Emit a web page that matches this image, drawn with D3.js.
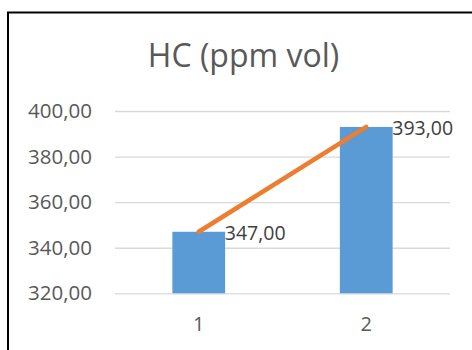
<!DOCTYPE html>
<html>
<head>
<meta charset="utf-8">
<script src="https://cdn.jsdelivr.net/npm/d3@7"></script>
<style>
  html, body { margin: 0; padding: 0; background: #fff; }
  svg { display: block; font-family: "Open Sans", sans-serif; }
</style>
</head>
<body>
<svg id="chart" width="472" height="350"></svg>
<script>
const title = "HC (ppm vol)";
const categories = ["1", "2"];
const barValues = [347, 393];
const lineValues = [347, 393];
const yTicks = [320, 340, 360, 380, 400];

const W = 472, H = 350;
const svg = d3.select("#chart");
const locale = d3.formatLocale({decimal: ",", thousands: ".", grouping: [3], currency: ["", ""]});
const fmt = locale.format(".2f");

svg.append("rect").attr("width", W).attr("height", H).attr("fill", "#fff");
// border (only left/top visible in frame)
svg.append("rect").attr("x", 8).attr("y", 12.5).attr("width", 480).attr("height", 360)
  .attr("fill", "none").attr("stroke", "#000").attr("stroke-width", 2);

const x = d3.scaleBand().domain(categories).range([115, 450]).paddingInner(0.685).paddingOuter(0.3425);
const y = d3.scaleLinear().domain([320, 400]).range([293.3, 111]);

// gridlines + y labels
const ya = svg.append("g").attr("transform", "translate(115,0)")
  .call(d3.axisLeft(y).tickValues(yTicks).tickSize(-335).tickPadding(23).tickFormat(fmt));
ya.select(".domain").remove();
ya.selectAll(".tick line").attr("stroke", "#D9D9D9").attr("stroke-width", 1.3);
ya.selectAll(".tick text").attr("fill", "#595959").style("font-size", "20.5px").style("font-family", "'Open Sans', sans-serif");

// x labels
const xa = svg.append("g").attr("transform", "translate(0,293.3)")
  .call(d3.axisBottom(x).tickSize(0).tickPadding(24));
xa.select(".domain").remove();
xa.selectAll(".tick text").attr("fill", "#595959").style("font-size", "20px").style("font-family", "'Open Sans', sans-serif");

// bars
svg.append("g").selectAll("rect").data(barValues).join("rect")
  .attr("x", (d, i) => x(categories[i]))
  .attr("width", x.bandwidth())
  .attr("y", d => y(d))
  .attr("height", d => y(320) - y(d))
  .attr("fill", "#5B9BD5");

// line
const cx = i => x(categories[i]) + x.bandwidth() / 2;
svg.append("path").datum(lineValues)
  .attr("d", d3.line().x((d, i) => cx(i)).y(d => y(d)))
  .attr("fill", "none").attr("stroke", "#ED7D31").attr("stroke-width", 4.5)
  .attr("stroke-linecap", "round").attr("stroke-linejoin", "round");

// data labels
svg.append("g").selectAll("text").data(lineValues).join("text")
  .attr("x", (d, i) => cx(i) + 26)
  .attr("y", d => y(d) + 1)
  .attr("dominant-baseline", "central")
  .attr("fill", "#404040")
  .style("font-size", "19.5px")
  .text(d => fmt(d));

// title
svg.append("text").attr("x", 243.5).attr("y", 67).attr("text-anchor", "middle")
  .attr("fill", "#595959").style("font-size", "32px").text(title);
</script>
</body>
</html>
